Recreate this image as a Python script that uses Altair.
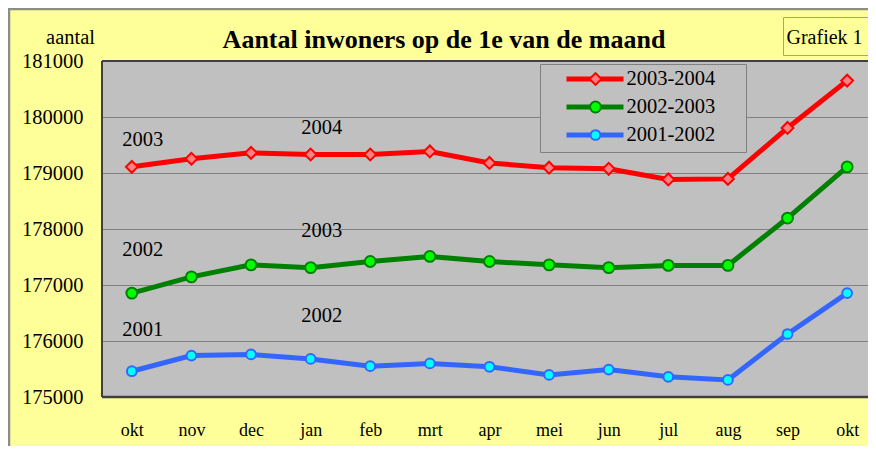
import json
import altair as alt
import pandas as pd

# ---------------- data ----------------
months = ["okt", "nov", "dec", "jan", "feb", "mrt", "apr", "mei", "jun", "jul", "aug", "sep", "okt"]
series = ["2003-2004", "2002-2003", "2001-2002"]
v_2003_2004 = [179110, 179255, 179360, 179330, 179330, 179385, 179180, 179095, 179075, 178885, 178895, 179805, 180650]
v_2002_2003 = [176855, 177145, 177360, 177310, 177420, 177510, 177420, 177360, 177310, 177350, 177350, 178195, 179110]
v_2001_2002 = [175460, 175740, 175760, 175680, 175550, 175600, 175540, 175395, 175490, 175360, 175305, 176125, 176855]
values_by_series = [v_2003_2004, v_2002_2003, v_2001_2002]

y_ticks = [175000, 176000, 177000, 178000, 179000, 180000, 181000]

ann_text = ["2003", "2004", "2002", "2003", "2001", "2002"]
ann_idx = [0, 3, 0, 3, 0, 3]
ann_value = [179595, 179800, 177630, 177970, 176200, 176440]

title_text = "Aantal inwoners op de 1e van de maand"
y_title = "aantal"
badge_text = "Grafiek 1"

# ---------------- styles ----------------
line_colors = ["#FF0000", "#008000", "#3366FF"]
marker_fills = ["#FF8080", "#00FF00", "#00FFFF"]
marker_shapes = ["diamond", "circle", "circle"]
marker_sizes = [140, 95, 95]
FONT = "Liberation Serif"
BG = "#FFFF99"
PLOT_BG = "#C0C0C0"
W, H = 766, 336

rows = []
for s, vals in zip(series, values_by_series):
    for i, (m, v) in enumerate(zip(months, vals)):
        rows.append({"idx": i, "month": m, "series": s, "value": v})
df = pd.DataFrame(rows)

ann_df = pd.DataFrame({"label": ann_text, "idx": ann_idx, "value": ann_value})
leg_df = pd.DataFrame({"series": series, "i": list(range(len(series)))})
deco = pd.DataFrame({"k": [0]})

label_expr = json.dumps(months) + "[datum.value]"

x_enc = alt.X(
    "idx:Q",
    scale=alt.Scale(domain=[-0.5, 12.35], nice=False, zero=False),
    axis=alt.Axis(
        title=None, values=list(range(len(months))), labelExpr=label_expr, labelAngle=0,
        ticks=False, domain=False, labelFont=FONT, labelFontSize=18, labelColor="black",
        labelBaseline="alphabetic", labelPadding=38.5, grid=False, labelFlush=False,
        labelOverlap=False,
    ),
)
y_enc = alt.Y(
    "value:Q",
    scale=alt.Scale(domain=[175000, 181000], nice=False, zero=False),
    axis=alt.Axis(
        title=None, values=y_ticks, format="d", ticks=False, domain=False,
        labelFont=FONT, labelFontSize=20.5, labelColor="black", labelPadding=19,
        grid=True, gridColor="#808080", gridWidth=1, labelFlush=False,
    ),
)

color_enc = alt.Color("series:N", scale=alt.Scale(domain=series, range=line_colors), legend=None)
stroke_enc = alt.Stroke("series:N", scale=alt.Scale(domain=series, range=line_colors), legend=None)
fill_enc = alt.Fill("series:N", scale=alt.Scale(domain=series, range=marker_fills), legend=None)
shape_enc = alt.Shape("series:N", scale=alt.Scale(domain=series, range=marker_shapes), legend=None)
size_enc = alt.Size("series:N", scale=alt.Scale(domain=series, range=marker_sizes), legend=None)

base = alt.Chart(df)
lines = base.mark_line(strokeWidth=5).encode(x=x_enc, y=y_enc, color=color_enc, detail="series:N")
points = base.mark_point(filled=True, strokeWidth=2, opacity=1).encode(
    x=x_enc, y=y_enc, fill=fill_enc, stroke=stroke_enc, shape=shape_enc, size=size_enc
)
ann = alt.Chart(ann_df).mark_text(
    font=FONT, fontSize=20.5, color="black", dx=11, baseline="middle", align="center"
).encode(x=x_enc, y=y_enc, text="label:N")

# plot border (left, top, bottom; right edge runs off the picture)
border_color = "#404040"
b_left = alt.Chart(deco).mark_rule(color=border_color, strokeWidth=2).encode(
    x=alt.value(0), y=alt.value(0), y2=alt.value(H)
)
b_top = alt.Chart(deco).mark_rule(color=border_color, strokeWidth=2).encode(
    x=alt.value(0), x2=alt.value(W), y=alt.value(0)
)
b_bottom = alt.Chart(deco).mark_rule(color=border_color, strokeWidth=2.5).encode(
    x=alt.value(0), x2=alt.value(W), y=alt.value(H)
)

# legend (built from the series list)
leg_box = alt.Chart(deco).mark_rect(fill=PLOT_BG, stroke="#808080", strokeWidth=1).encode(
    x=alt.value(438.5), x2=alt.value(644.5), y=alt.value(3.5), y2=alt.value(91.5)
)
leg_base = alt.Chart(leg_df).transform_calculate(ly="18 + 28 * datum.i")
leg_y = alt.Y("ly:Q", scale=None, axis=None)
leg_lines = leg_base.mark_rule(strokeWidth=5).encode(
    x=alt.value(464.5), x2=alt.value(521.5), y=leg_y, color=color_enc
)
leg_points = leg_base.mark_point(filled=True, strokeWidth=2, opacity=1).encode(
    x=alt.value(493.5), y=leg_y, fill=fill_enc, stroke=stroke_enc, shape=shape_enc, size=size_enc
)
leg_text = leg_base.mark_text(
    font=FONT, fontSize=20.5, color="black", align="left", baseline="middle"
).encode(x=alt.value(524.5), y=leg_y, text="series:N")

# decorations
frame = alt.Chart(deco).mark_rect(fill=None, stroke="#8C8C8C", strokeWidth=2.5).encode(
    x=alt.value(-93), x2=alt.value(900), y=alt.value(-52), y2=alt.value(460)
)
title = alt.Chart(deco).mark_text(
    text=title_text, font=FONT, fontSize=26, fontWeight="bold", color="black",
    align="center", baseline="alphabetic"
).encode(x=alt.value(342), y=alt.value(-13.5))
ytitle = alt.Chart(deco).mark_text(
    text=y_title, font=FONT, fontSize=20.5, color="black", align="right", baseline="alphabetic"
).encode(x=alt.value(-7), y=alt.value(-17.5))
badge_box = alt.Chart(deco).mark_rect(fill=BG, stroke="#A0A0A0", strokeWidth=1).encode(
    x=alt.value(681.5), x2=alt.value(800), y=alt.value(-43.5), y2=alt.value(-5.5)
)
badge = alt.Chart(deco).mark_text(
    text=badge_text, font=FONT, fontSize=20, color="black", align="left", baseline="alphabetic"
).encode(x=alt.value(684.5), y=alt.value(-17))

chart = alt.layer(
    lines, points, ann, leg_box, leg_lines, leg_points, leg_text,
    b_left, b_top, b_bottom, frame, title, ytitle, badge_box, badge,
).properties(
    width=W, height=H,
    background=BG,
    padding={"left": 94, "top": 53, "right": 0, "bottom": 49},
    autosize=alt.AutoSizeParams(type="none"),
).configure_view(
    fill=PLOT_BG, stroke=None
)

chart.save("out.html", embed_options={"renderer": "svg", "actions": False})
